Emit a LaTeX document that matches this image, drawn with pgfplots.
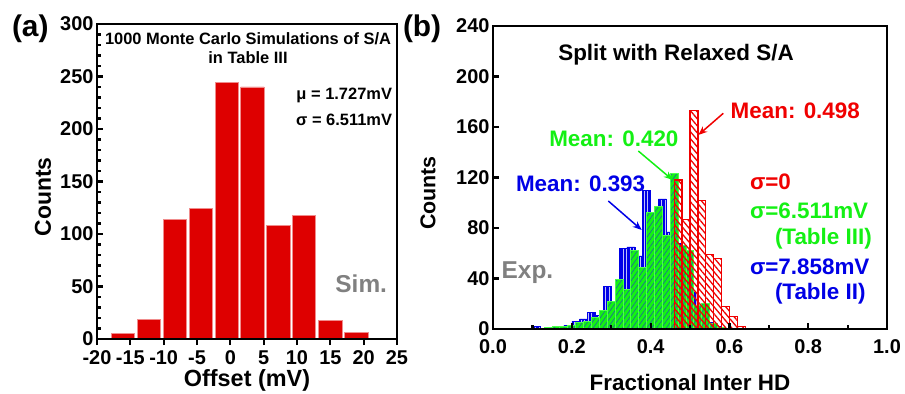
\documentclass[border=0pt]{standalone}
\usepackage{pgfplots}
\pgfplotsset{compat=1.18}
\usepackage{fontspec}
\setmainfont{Liberation Sans}
\usetikzlibrary{patterns,patterns.meta,arrows.meta}

\definecolor{barred}{RGB}{222,0,0}
\definecolor{txtred}{RGB}{240,0,0}
\definecolor{hgreen}{RGB}{20,240,20}
\definecolor{hblue}{RGB}{0,0,230}
\definecolor{hatchblue}{RGB}{30,80,180}
\definecolor{labgray}{RGB}{128,128,128}

\newcommand{\fs}[1]{\fontsize{#1}{#1}\selectfont\bfseries}

\pgfplotsset{
  panel/.style={
    scale only axis, axis on top, anchor=south west,
    axis line style={line width=2.6bp},
    tick style={black, line width=2.2bp},
    major tick length=6bp, minor tick length=3.5bp,
    tick align=inside, tick pos=left,
    tick label style={font=\fs{20}},
    /pgf/number format/assume math mode=true,
  },
}
\tikzset{txt/.style={inner sep=0pt, outer sep=0pt}}

\begin{document}
\begin{tikzpicture}
\path[use as bounding box] (0,0) rectangle (905bp,394bp);

% ---------- (a) offset histogram ----------
\begin{axis}[panel, at={(97bp,55bp)}, width=300bp, height=315bp,
  xmin=-20, xmax=25, ymin=0, ymax=300,
  xtick={-20,-15,-10,-5,0,5,10,15,20,25},
  ytick={0,50,100,150,200,250,300}, minor y tick num=4,
  xticklabel style={yshift=-2bp},
  ybar, bar width=3.5]
\addplot[fill=barred, draw=white!55!barred, line width=0.6bp, bar shift=0pt]
  coordinates {(-16.1,5) (-12.2,19) (-8.3,114) (-4.4,124) (-0.55,244)
               (3.3,240) (7.2,108) (11.05,118) (15.0,18) (18.9,6)};
\end{axis}

% ---------- (b) fractional inter HD ----------
\begin{axis}[panel, at={(493bp,65bp)}, width=394bp, height=303bp,
  xmin=0, xmax=1, ymin=0, ymax=240,
  xtick={0,0.2,0.4,0.6,0.8,1}, minor x tick num=1,
  ytick={0,40,80,120,160,200,240},
  xticklabel style={yshift=-7bp, /pgf/number format/.cd, fixed, fixed zerofill, precision=1}]
% sigma = 7.858 mV (Table II)
\addplot[ybar, bar width=0.02, bar shift=0pt, fill=hblue, draw=hblue, line width=0.5bp,
  postaction={pattern={Lines[angle=90, distance=3.5bp, line width=0.8bp]}, pattern color=white!75!hblue}]
  coordinates {(0.11,2) (0.15,1) (0.17,1) (0.19,3) (0.21,6) (0.23,8) (0.25,13)
               (0.27,11) (0.29,34) (0.31,20) (0.33,64) (0.35,65) (0.37,58)
               (0.39,110) (0.41,88) (0.43,103) (0.45,77) (0.47,68) (0.49,55)
               (0.51,29) (0.53,12) (0.55,5) (0.57,2)};
% sigma = 6.511 mV (Table III)
\addplot[ybar, bar width=0.02, bar shift=0pt, fill=hgreen, draw=green!70!white, line width=1bp,
  postaction={pattern={Lines[angle=55, distance=4bp, line width=0.5bp]}, pattern color=hatchblue}]
  coordinates {(0.14,1) (0.16,2) (0.18,2) (0.20,3) (0.22,5) (0.24,6) (0.26,9)
               (0.28,15) (0.30,22) (0.32,39) (0.34,31) (0.36,62) (0.38,49)
               (0.40,92) (0.42,97) (0.44,74) (0.46,123) (0.48,66) (0.50,62)
               (0.52,19) (0.54,20) (0.56,4) (0.58,1)};
% sigma = 0
\addplot[ybar, bar width=0.02, bar shift=0pt, draw=txtred, line width=1.3bp,
  pattern={Lines[angle=-50, distance=4.5bp, line width=1.3bp]}, pattern color=txtred]
  coordinates {(0.47,118) (0.49,87) (0.51,173) (0.53,102) (0.55,59)
               (0.57,56) (0.59,18) (0.61,10) (0.63,2)};
\end{axis}

% panel tags
\node[txt, anchor=base west, font=\fs{30}] at (12bp,357bp) {(a)};
\node[txt, anchor=base west, font=\fs{30}] at (403bp,357bp) {(b)};

% (a) labels and notes
\node[txt, rotate=90, font=\fs{23}] at (43bp,197bp) {Counts};
\node[txt, anchor=base, font=\fs{23.5}] at (247bp,8bp) {Offset (mV)};
\node[txt, anchor=base, font=\fs{16.5}] at (248bp,349bp) {1000 Monte Carlo Simulations of S/A};
\node[txt, anchor=base, font=\fs{16.5}] at (248bp,330bp) {in Table III};
\node[txt, anchor=base east, font=\fs{16.5}] at (392bp,294bp) {μ = 1.727mV};
\node[txt, anchor=base east, font=\fs{16.5}] at (392bp,268bp) {σ = 6.511mV};
\node[txt, anchor=base east, font=\fs{24.5}, text=labgray] at (387bp,101bp) {Sim.};

% (b) labels and notes
\node[txt, rotate=90, font=\fs{21.5}] at (428bp,201bp) {Counts};
\node[txt, anchor=base, font=\fs{22.5}] at (690bp,4bp) {Fractional Inter HD};
\node[txt, anchor=base, font=\fs{22.5}] at (676bp,333.5bp) {Split with Relaxed S/A};
\node[txt, anchor=base west, font=\fs{24.5}, text=labgray] at (501.7bp,115.7bp) {Exp.};

\node[txt, anchor=base west, font=\fs{22.5}, text=txtred] at (730.7bp,275bp) {Mean: 0.498};
\node[txt, anchor=base west, font=\fs{22.5}, text=hgreen] at (549.3bp,247.3bp) {Mean: 0.420};
\node[txt, anchor=base west, font=\fs{22.5}, text=hblue] at (516bp,202.3bp) {Mean: 0.393};
\draw[txtred, line width=1.5bp, -{Stealth[length=9bp,width=7bp]}] (723.3bp,280.7bp) -- (698.3bp,259bp);
\draw[hgreen, line width=1.5bp, -{Stealth[length=9bp,width=7bp]}] (638.3bp,243bp) -- (672.7bp,214bp);
\draw[hblue, line width=1.5bp, -{Stealth[length=9bp,width=7bp]}] (608.3bp,193bp) -- (641.7bp,164bp);

\node[txt, anchor=base west, font=\fs{22.5}, text=txtred] at (750bp,204bp) {σ=0};
\node[txt, anchor=base west, font=\fs{22.5}, text=hgreen] at (750bp,175.7bp) {σ=6.511mV};
\node[txt, anchor=base west, font=\fs{22.5}, text=hgreen] at (775bp,149bp) {(Table III)};
\node[txt, anchor=base west, font=\fs{22.5}, text=hblue] at (750bp,119bp) {σ=7.858mV};
\node[txt, anchor=base west, font=\fs{22.5}, text=hblue] at (775bp,94bp) {(Table II)};
\end{tikzpicture}
\end{document}
